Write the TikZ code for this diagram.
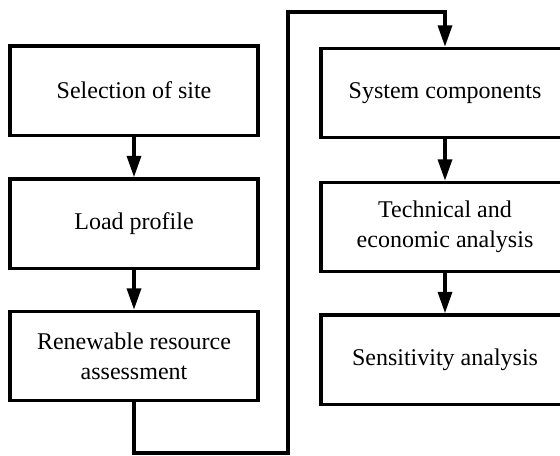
\documentclass[tikz,border=0pt]{standalone}
\usepackage{fontspec}
\setmainfont{Liberation Serif}
\usetikzlibrary{arrows.meta}
\begin{document}
\begin{tikzpicture}[x=0.75pt,y=-0.75pt,
  stepbox/.style={draw, line width=2.5pt, minimum width=186pt, minimum height=67pt,
    inner sep=0pt, align=center, font=\fontsize{18}{22.5}\selectfont},
  flow/.style={line width=2.5pt, -{Triangle[width=10.5pt,length=16pt]}}]
\useasboundingbox (0,0) rectangle (560,455);
% left column
\node[stepbox] (b1) at (134,90.5) {Selection of site};
\node[stepbox] (b2) at (134,223.5) {Load profile};
\node[stepbox] (b3) at (134,356) {Renewable resource\\assessment};
% right column
\node[stepbox] (b4) at (445,93) {System components};
\node[stepbox] (b5) at (445,227) {Technical and\\economic analysis};
\node[stepbox] (b6) at (445,359.5) {Sensitivity analysis};
% arrows within columns
\draw[flow] (b1) -- (b2);
\draw[flow] (b2) -- (b3);
\draw[flow] (b4) -- (b5);
\draw[flow] (b5) -- (b6);
% link from the left column to the right column
\coordinate (lowturn) at (288,453);
\coordinate (highturn) at (288,12);
\draw[flow] (b3.south) |- (lowturn) -- (highturn) -| (b4.north);
\end{tikzpicture}
\end{document}
